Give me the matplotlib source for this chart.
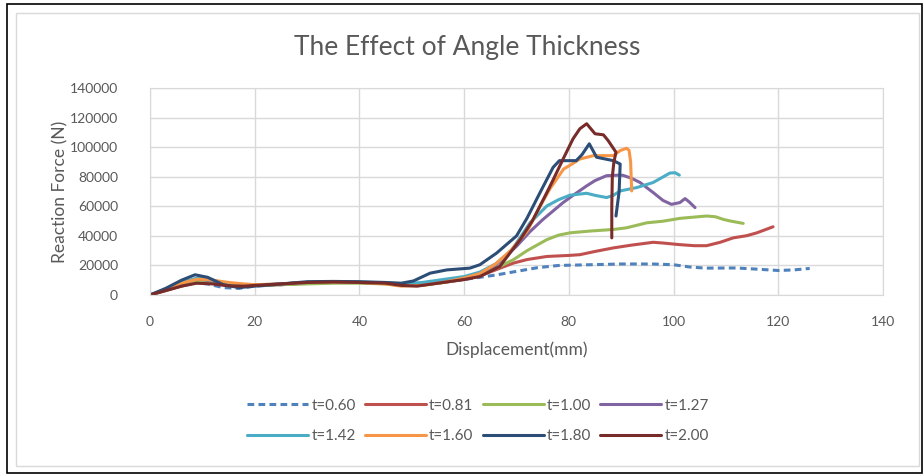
import numpy as np
import matplotlib
matplotlib.use("Agg")
import matplotlib.pyplot as plt
from matplotlib.patches import Rectangle

# данные (перемещение мм, сила Н)
labels = ["t=0.60", "t=0.81", "t=1.00", "t=1.27", "t=1.42", "t=1.60", "t=1.80", "t=2.00"]

x060 = [0, 3, 6, 8.5, 11, 14, 17, 20, 25, 30, 35, 40, 45, 48, 52, 56, 60, 63, 66, 70, 74, 78,
        84, 90, 96, 100, 103, 106, 112, 116, 120, 123, 126]
y060 = [0, 3500, 6500, 8500, 7500, 5000, 4500, 6000, 7000, 8000, 8500, 8500, 8000, 7000, 7500,
        9000, 10500, 12000, 13500, 16000, 18500, 20000, 20500, 21000, 21000, 20500, 19000, 18200,
        18300, 17500, 16600, 17000, 18000]

x081 = [0, 3, 6, 9, 12, 15, 18, 20, 25, 30, 35, 40, 45, 48, 52, 56, 60, 63, 66, 69.4, 72, 75.8,
        80, 82.1, 85, 88.5, 92, 96.1, 98, 101.2, 104, 106.3, 108.9, 111.4, 114, 115.9, 119]
y081 = [0, 3000, 6000, 8500, 7800, 6500, 6200, 6500, 7000, 8000, 8500, 8500, 7800, 6500, 6800,
        8500, 10500, 13000, 17000, 21600, 24000, 26100, 26800, 27300, 29500, 31900, 33800, 35700,
        35200, 34100, 33400, 33400, 35700, 38700, 40200, 42100, 46200]

x100 = [0, 3, 6, 9, 12, 15, 18, 20, 25, 30, 35, 40, 45, 48, 52, 56, 60, 63, 66, 69.4, 72, 75.8,
        78, 80.2, 84, 88.5, 91, 94.9, 98, 101.2, 104, 106.3, 108, 109.5, 111, 113.3]
y100 = [0, 3500, 7000, 9500, 8500, 7000, 6500, 6500, 7000, 7500, 8000, 8000, 7500, 6500, 7000,
        8500, 11000, 14000, 18000, 23900, 30000, 37500, 40500, 42100, 43300, 44400, 45500, 48900,
        50000, 51900, 52800, 53500, 53000, 51200, 50000, 48500]

x127 = [0, 3, 6, 9, 12, 15, 18, 20, 25, 30, 35, 40, 45, 48, 52, 56, 60, 63, 66, 70, 72.6, 75,
        78.9, 81, 83.4, 85, 87.2, 89.8, 90.4, 92, 93.6, 96.1, 98, 99.6, 101.2, 102.2, 103, 104.1]
y127 = [0, 3800, 8000, 11000, 9500, 7000, 6000, 6500, 7500, 8500, 9000, 8500, 8000, 7000, 7500,
        9500, 11500, 15000, 20000, 33000, 43000, 51000, 62600, 68000, 73900, 77500, 80800, 81200,
        81000, 79000, 76200, 69400, 64000, 61400, 62600, 65300, 63000, 59200]

x142 = [0, 3, 6, 9, 12, 15, 18, 20, 25, 30, 35, 40, 45, 48, 52, 56, 60, 63, 66, 69, 72.6, 75.8,
        78, 80.2, 83.4, 85, 87.2, 88.5, 89.8, 93, 96.1, 98, 99.3, 100.3, 101.1]
y142 = [0, 4000, 8500, 11500, 10000, 7500, 6500, 6800, 7500, 8500, 9000, 8800, 8200, 7500, 8500,
        10500, 12500, 15500, 21000, 30000, 49000, 60300, 64500, 67600, 68900, 67500, 66000, 67500,
        70500, 72800, 76200, 80000, 82600, 82800, 81200]

x160 = [0, 3, 6, 9, 11, 13, 15, 18, 20, 25, 30, 35, 40, 45, 48, 52, 56, 60, 63, 66, 69, 72, 74.5,
        76.4, 79, 80.5, 82.1, 84.7, 88.5, 89.8, 91, 91.5, 91.8, 92]
y160 = [0, 3800, 8000, 10700, 10500, 9500, 8500, 7500, 7000, 7500, 8500, 8800, 8500, 7500, 6000,
        6500, 8500, 11500, 14500, 21000, 30500, 43000, 60000, 72000, 85300, 88500, 92100, 94400,
        94400, 97800, 99400, 98000, 90000, 70500]

x180 = [0, 3, 6, 8.6, 11, 14, 17, 20, 25, 30, 35, 40, 45, 48, 50.3, 53.5, 56.7, 61.1, 63, 66.2,
        70, 72, 74.5, 77, 78.2, 81.4, 82.5, 83.9, 85.3, 88.5, 89.8, 89.6, 89]
y180 = [0, 4500, 10000, 13700, 12000, 7000, 5000, 6000, 7500, 9000, 9200, 9000, 8500, 8000, 9500,
        14800, 17000, 18200, 20500, 28400, 40000, 52000, 69400, 86500, 91000, 91000, 95000, 102400,
        93300, 91000, 88700, 70000, 53500]

x200 = [0, 3, 6, 8.9, 12, 15, 18, 20, 25, 30, 35, 40, 45, 48, 51, 55, 60, 63, 66.8, 70.7, 73, 75.8,
        77, 78.9, 80.8, 82.1, 83.4, 85, 86.6, 87.5, 89, 88.6, 88.3, 88.2, 88.2]
y200 = [0, 3000, 6000, 8000, 7500, 6200, 6000, 6500, 7500, 8500, 8800, 8500, 8000, 6500, 6000,
        8000, 10500, 12500, 19300, 37500, 50000, 69400, 78000, 92100, 105800, 112600, 116000,
        109200, 108500, 104600, 96700, 90000, 80000, 60000, 38700]

xs = [x060, x081, x100, x127, x142, x160, x180, x200]
ys = [y060, y081, y100, y127, y142, y160, y180, y200]
colors = ["#4F81BD", "#C0504D", "#9BBB59", "#8064A2", "#4BACC6", "#F79646", "#2C4D75", "#772C2A"]

plt.rcParams['font.family'] = ['Lato', 'DejaVu Sans']
txt = "#595959"

fig = plt.figure(figsize=(9.23, 4.74), dpi=100)
# рамки
fig.patches.append(Rectangle((7/923, 1/474), 915/923, 469/474, transform=fig.transFigure,
                             fill=False, edgecolor="black", lw=1.2))
fig.patches.append(Rectangle((16/923, 8/474), 903/923, 453/474, transform=fig.transFigure,
                             fill=False, edgecolor="#D9D9D9", lw=1))

ax = fig.add_axes([150/923, (474-295)/474, 733/923, 206.7/474])
lines = []
for i in range(len(labels)):
    ls = (0, (2.2, 1.4)) if i == 0 else "-"
    ln, = ax.plot(xs[i], ys[i], color=colors[i], lw=2.2, ls=ls, label=labels[i],
                  solid_joinstyle="round", solid_capstyle="round")
    lines.append(ln)

ax.set_xlim(0, 140)
ax.set_ylim(0, 140000)
ax.set_xticks(np.arange(0, 141, 20))
ax.set_yticks(np.arange(0, 140001, 20000))
ax.grid(True, color="#D9D9D9", lw=1)
ax.set_axisbelow(True)
for s in ax.spines.values():
    s.set_color("#D9D9D9")
ax.tick_params(length=0, colors=txt, labelsize=10)
ax.tick_params(axis="x", pad=15)
ax.tick_params(axis="y", pad=23)
ax.set_xlabel("Displacement(mm)", color=txt, fontsize=12.5, labelpad=10)
ax.set_ylabel("Reaction Force (N)", color=txt, fontsize=12.5, labelpad=1)
fig.text(467/923, 1-48/474, "The Effect of Angle Thickness", ha="center", va="center",
         color=txt, fontsize=19)

# порядок легенды по строкам, как в Excel
order = [0, 4, 1, 5, 2, 6, 3, 7]
fig.legend([lines[k] for k in order], [labels[k] for k in order],
           loc="center", bbox_to_anchor=(478/923, 1-421/474), ncol=4, frameon=False,
           fontsize=11, handlelength=4, handletextpad=0.2, columnspacing=0.6,
           labelspacing=1.1, labelcolor=txt)

fig.savefig("out.png", dpi=100)
